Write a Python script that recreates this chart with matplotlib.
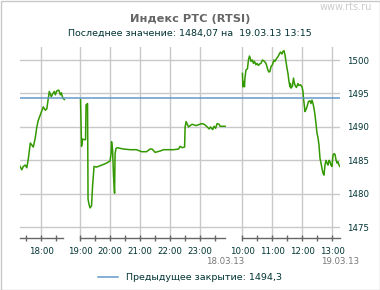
import matplotlib
matplotlib.use("Agg")
import matplotlib.pyplot as plt
import matplotlib.transforms as mtransforms
from matplotlib.patches import Rectangle

# RTSI intraday quotes, 18.03.13 evening + 19.03.13 morning
seg1_times = ["17:16", "17:21", "17:24", "17:28", "17:31", "17:34", "17:38", "17:42",
              "17:44", "17:48", "17:51", "17:54", "17:58", "18:01", "18:04", "18:08",
              "18:11", "18:14", "18:16", "18:20", "18:23", "18:26", "18:28", "18:31",
              "18:35", "18:38", "18:40", "18:43", "18:46"]
seg1_vals = [1484.3, 1483.6, 1484.1, 1484.3, 1483.9, 1485.2, 1487.6, 1487.2,
             1487.0, 1488.4, 1490.0, 1491.0, 1491.8, 1492.4, 1493.0, 1492.5,
             1492.7, 1494.3, 1495.3, 1494.5, 1495.0, 1495.3, 1494.8, 1495.4,
             1495.5, 1494.8, 1495.1, 1494.3, 1494.1]

seg2_times = ["19:01", "19:03", "19:05", "19:08", "19:11", "19:12", "19:15", "19:16",
              "19:18", "19:20", "19:23", "19:25", "19:28", "19:33", "19:40", "19:47",
              "19:53", "20:00", "20:02", "20:03", "20:05", "20:07", "20:09", "20:10",
              "20:12", "20:15", "20:20", "20:27", "20:40", "20:53", "21:03", "21:13",
              "21:20", "21:24", "21:30", "21:40", "21:47", "22:07", "22:17", "22:20",
              "22:24", "22:29", "22:30", "22:32", "22:35", "22:37", "22:40", "22:44",
              "22:52", "23:03", "23:08", "23:13", "23:18", "23:21", "23:25", "23:28",
              "23:31", "23:34", "23:38", "23:40", "23:50"]
seg2_vals = [1494.1, 1487.1, 1488.2, 1488.1, 1488.1, 1493.3, 1493.5, 1479.2,
             1478.4, 1477.9, 1478.2, 1481.1, 1484.1, 1484.0, 1484.2, 1484.4,
             1484.6, 1484.9, 1486.0, 1487.8, 1486.6, 1482.6, 1480.1, 1486.0,
             1486.8, 1486.9, 1486.8, 1486.7, 1486.6, 1486.6, 1486.3, 1486.3,
             1486.7, 1486.7, 1486.2, 1486.4, 1486.6, 1486.6, 1486.7, 1487.1,
             1486.9, 1487.0, 1490.0, 1490.8, 1490.3, 1490.0, 1490.2, 1490.4,
             1490.2, 1490.5, 1490.4, 1490.1, 1489.7, 1490.0, 1489.6, 1490.1,
             1489.8, 1490.5, 1490.4, 1490.1, 1490.1]

seg3_times = ["10:00", "10:01", "10:03", "10:04", "10:05", "10:07", "10:10", "10:12",
              "10:14", "10:16", "10:17", "10:20", "10:22", "10:24", "10:27", "10:29",
              "10:32", "10:34", "10:37", "10:40", "10:44", "10:47", "10:49", "10:51",
              "10:53", "10:55", "10:57", "11:00", "11:03", "11:05", "11:08", "11:11",
              "11:13", "11:16", "11:19", "11:21", "11:23", "11:25", "11:27", "11:29",
              "11:31", "11:33", "11:35", "11:36", "11:37", "11:40", "11:42", "11:44",
              "11:46", "11:48", "11:51", "11:53", "11:56", "11:59", "12:01", "12:02",
              "12:04", "12:05", "12:07", "12:09", "12:12", "12:15", "12:17", "12:19",
              "12:21", "12:23", "12:25", "12:27", "12:29", "12:31", "12:33", "12:35",
              "12:37", "12:39", "12:41", "12:43", "12:45", "12:47", "12:49", "12:51",
              "12:53", "12:55", "12:57", "12:59", "13:01", "13:03", "13:05", "13:07",
              "13:09", "13:11", "13:13", "13:15"]
seg3_vals = [1498.0, 1496.0, 1496.8, 1496.0, 1497.3, 1498.5, 1498.7, 1500.0,
             1500.6, 1500.2, 1499.8, 1500.0, 1499.5, 1499.8, 1499.3, 1499.5,
             1499.2, 1499.4, 1499.5, 1500.0, 1499.8, 1499.5, 1499.0, 1498.5,
             1498.2, 1498.3, 1499.0, 1499.3, 1500.0, 1499.8, 1500.2, 1500.5,
             1500.8, 1501.2, 1500.9, 1501.3, 1501.4, 1500.8, 1499.8, 1498.8,
             1498.0, 1496.8, 1496.0, 1496.5, 1495.8, 1496.1, 1497.3, 1496.5,
             1496.1, 1495.9, 1496.5, 1496.2, 1496.3, 1496.0, 1495.3, 1494.3,
             1493.0, 1492.3, 1492.6, 1493.0, 1493.8, 1493.9, 1493.5, 1494.0,
             1493.5, 1492.8, 1491.8, 1490.5, 1489.1, 1488.4, 1487.3, 1485.3,
             1484.6, 1483.8, 1483.1, 1482.8, 1484.3, 1485.0, 1484.6, 1484.3,
             1485.0, 1484.8, 1484.3, 1484.1, 1485.8, 1486.0, 1485.9, 1485.1,
             1484.6, 1484.8, 1484.3, 1484.07]

prev_close = 1494.3
last_value = "1484,07"
last_time = "19.03.13 13:15"

hour_labels = [["18:00"],
               ["19:00", "20:00", "21:00", "22:00", "23:00"],
               ["10:00", "11:00", "12:00", "13:00"]]
half_hours = [["17:30", "18:30"],
              ["19:30", "20:30", "21:30", "22:30", "23:30"],
              ["10:30", "11:30", "12:30"]]
date_labels = ["", "18.03.13", "19.03.13"]

y_ticks = [1475, 1480, 1485, 1490, 1495, 1500]

# broken time axis: each block is shifted so the gaps between sessions collapse
SEG_SHIFT = [17.29, 17.0, 2.59]
SEG_SPAN = [("17:17", "18:44"), ("19:00", "23:50"), ("10:00", "13:15")]


def hours(t):
    h, m = t.split(":")
    return int(h) + int(m) / 60.0


def pos(t, seg):
    return hours(t) - SEG_SHIFT[seg]


GREEN = "#339900"
BLUE = "#6699cc"
GRID = "#c8c8c8"
TEAL = "#003333"

fig = plt.figure(figsize=(3.8, 2.9), dpi=100)
ax = fig.add_axes([20 / 380, 1 - 238 / 290, 320 / 380, 191 / 290])

for i, (t, v) in enumerate([(seg1_times, seg1_vals), (seg2_times, seg2_vals),
                            (seg3_times, seg3_vals)]):
    ax.plot([pos(x, i) for x in t], v, color=GREEN, lw=1.1, zorder=2)

ax.axhline(prev_close, color=BLUE, lw=1.1, zorder=3,
           label="Предыдущее закрытие: " + str(prev_close).replace(".", ","))

ax.set_xlim(0, pos("13:15", 2))
ax.set_ylim(1473.4, 1501.95)

majors, labels, minors = [], [], []
for i in range(3):
    for h in hour_labels[i]:
        majors.append(pos(h, i))
        labels.append(h)
    for h in half_hours[i]:
        minors.append(pos(h, i))
ax.set_xticks(majors)
ax.set_xticklabels(labels)
ax.set_xticks(minors, minor=True)
ax.set_yticks(y_ticks)

for s in ax.spines.values():
    s.set_visible(False)

ax.grid(True, which="major", color=GRID, lw=1, zorder=0)
ax.set_axisbelow(True)
ax.yaxis.tick_right()
ax.tick_params(axis="y", length=0, pad=5, labelsize=6.2, labelcolor=TEAL)
ax.tick_params(axis="x", which="both", direction="inout", length=4.5, width=1,
               color="#666666", pad=4, labelsize=6.2, labelcolor=TEAL)

# axis base line only under the trading blocks
trans = mtransforms.blended_transform_factory(ax.transData, ax.transAxes)
ftrans = mtransforms.blended_transform_factory(ax.transData, fig.transFigure)
for i, (a, b) in enumerate(SEG_SPAN):
    ax.plot([pos(a, i), pos(b, i)], [0, 0], color="#666666", lw=1,
            transform=trans, clip_on=False, zorder=4)
    if date_labels[i]:
        ax.text(pos(b, i), 1 - 261.5 / 290, date_labels[i], transform=ftrans,
                ha="center", va="center", fontsize=6.2, color="#777777")

fig.text(0.5, 1 - 19.5 / 290, "Индекс РТС (RTSI)", ha="center", va="center",
         fontsize=8.2, fontweight="bold", color="#666666")
fig.text(0.5, 1 - 33.7 / 290,
         "Последнее значение: " + last_value + " на  " + last_time,
         ha="center", va="center", fontsize=6.8, color=TEAL)
fig.text(372 / 380, 1 - 7 / 290, "www.rts.ru", ha="right", va="center",
         fontsize=7, color="#cccccc")

leg = ax.legend(loc="center", bbox_to_anchor=(0.5, 1 - 277.7 / 290),
                bbox_transform=fig.transFigure, frameon=False, fontsize=6.8,
                handlelength=2.1, handletextpad=0.8)
for t in leg.get_texts():
    t.set_color(TEAL)

fig.add_artist(Rectangle((0.5 / 380, 0.5 / 290), 379 / 380, 289 / 290,
                         transform=fig.transFigure, fill=False,
                         edgecolor="#c8c8c8", lw=1))

fig.savefig("out.png", dpi=100)
